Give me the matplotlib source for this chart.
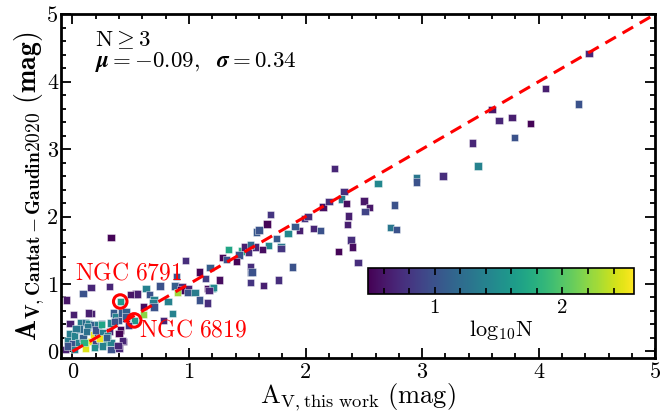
import numpy as np
import matplotlib
matplotlib.use("Agg")
import matplotlib.pyplot as plt
from matplotlib.ticker import MultipleLocator

plt.rcParams['mathtext.fontset'] = 'cm'
plt.rcParams['font.family'] = 'serif'
plt.rcParams['font.serif'] = ['cmr10', 'DejaVu Serif']
plt.rcParams['axes.unicode_minus'] = False
plt.rcParams['axes.formatter.use_mathtext'] = True

# data: (A_V this work, A_V Cantat-Gaudin2020, log10 N)
av_this = [4.43, 4.06, 4.34, 3.60, 3.66, 3.77, 3.93, 3.79, 3.43, 3.48, 3.18, 2.95, 2.95,
           2.25, 2.62, 2.33, 2.31, 2.35, 2.50, 2.55, 2.51, 2.76, 2.73, 2.78, 2.15, 2.20, 2.37, 2.36,
           2.39, 2.40, 2.28, 2.45, 1.99, 2.02, 2.07, 2.13, 1.95, 1.91, 1.70, 1.67, 1.58, 1.60, 1.75,
           1.85, 1.68, 1.79, 1.79, 1.57, 1.89, 1.53, 1.77,
           1.34, 1.45, 1.48, 1.53, 1.43, 1.51, 1.63, 1.29, 1.41, 1.53, 1.54, 0.97, 1.09, 1.18, 1.14,
           1.26, 0.89, 0.75, 0.88, 0.94, 0.99, 1.16, 1.20, 1.53, 1.64, 1.32, 1.21,
           0.93, 0.90, 0.99, 1.05, 1.09, 1.16, 1.17, 0.82, 0.86, 0.78, 0.63, 0.54, 0.66, 0.70, 0.69,
           0.61, 0.70, 0.61, 0.53, 0.41,
           0.16, 0.32, 0.09, -0.05, 0.50, 0.56, 0.01, 0.16, -0.02, 0.07, 0.11, 0.14, 0.18, 0.22, 0.25,
           0.35, 0.37, 0.42, 0.46, 0.46, 0.39, 0.41, 0.40, 0.44, 0.40, -0.02, 0.02, -0.04, 0.00, 0.05,
           0.09, 0.18, 0.16, 0.11, 0.10, 0.20, 0.24, 0.28, 0.26, 0.32, 0.22, 0.26, 0.20, 0.33, 0.02,
           -0.06, -0.04, 0.33, 0.30, 0.33, 0.23, 0.43, 0.39, 0.46, 0.33, 0.14, 0.25, 0.06, 0.13,
           0.29, 0.36, 0.48, 0.12, 0.03, 0.19]
av_cg = [4.42, 3.90, 3.67, 3.59, 3.42, 3.47, 3.38, 3.17, 3.09, 2.75, 2.60, 2.57, 2.51,
         2.71, 2.49, 2.37, 2.26, 2.19, 2.23, 2.13, 2.07, 2.17, 1.84, 1.81, 2.14, 2.22, 2.01, 1.88,
         1.65, 1.55, 1.48, 1.32, 1.97, 2.00, 1.82, 1.79, 1.79, 1.85, 2.03, 1.89, 1.77, 1.80, 1.67,
         1.75, 1.57, 1.55, 1.53, 1.55, 1.25, 1.17, 1.06,
         1.51, 1.49, 1.55, 1.58, 1.43, 1.47, 1.51, 1.39, 1.33, 1.26, 1.18, 1.35, 1.18, 1.24, 1.08,
         1.06, 1.11, 0.97, 0.97, 0.96, 0.93, 0.93, 0.94, 1.02, 0.98, 1.36, 0.95,
         0.91, 0.87, 0.87, 0.87, 0.76, 0.72, 0.90, 0.74, 0.56, 0.46, 0.93, 0.85, 0.84, 0.77, 0.73,
         0.67, 0.66, 0.55, 0.46, 0.74,
         0.95, 0.96, 0.86, 0.76, 0.84, 0.85, 0.55, 0.56, 0.41, 0.43, 0.43, 0.41, 0.40, 0.39, 0.41,
         0.57, 0.52, 0.57, 0.59, 0.49, 0.46, 0.32, 0.27, 0.15, 0.05, 0.26, 0.23, 0.16, 0.11, 0.13,
         0.20, 0.25, 0.15, 0.05, 0.13, 0.11, 0.18, 0.13, 0.08, 0.30, 0.28, 0.28, 0.32, 0.03, 0.03,
         0.03, 0.08, 1.69, 0.24, 0.13, 0.19, 0.16, 0.09, 0.52, 0.42, 0.57, 0.40, 0.33, 0.36,
         0.21, 0.44, 0.38, 0.30, 0.34, 0.06]
log_n = [0.70, 0.65, 1.00, 0.60, 0.70, 0.65, 0.50, 1.00, 0.70, 1.40, 0.75, 1.30, 1.00,
         0.70, 1.45, 0.75, 1.35, 0.55, 0.60, 0.60, 0.90, 1.00, 1.30, 1.00, 0.55, 0.75, 0.65, 0.65,
         0.75, 0.55, 0.50, 0.75, 0.80, 0.75, 0.70, 1.00, 0.65, 1.05, 0.80, 0.50, 1.05, 1.00, 1.05,
         1.45, 1.45, 1.30, 0.80, 0.70, 1.00, 1.00, 0.75,
         1.70, 1.75, 0.65, 1.20, 1.00, 0.75, 0.55, 0.50, 0.50, 0.75, 1.00, 0.75, 0.50, 1.10, 0.85,
         0.55, 1.00, 1.00, 1.10, 0.75, 0.70, 0.55, 1.50, 0.80, 0.65, 1.00, 1.45,
         0.50, 2.25, 1.00, 1.35, 1.00, 0.75, 0.70, 1.40, 1.40, 0.70, 1.40, 0.65, 1.00, 1.40, 1.35,
         0.55, 1.00, 2.20, 1.60, 1.60,
         0.70, 0.70, 1.00, 0.60, 0.60, 0.65, 0.65, 0.65, 0.65, 1.35, 1.20, 1.40, 1.10, 1.35, 1.10,
         1.05, 1.40, 1.05, 1.10, 0.75, 1.00, 0.50, 0.50, 0.70, 0.70, 1.35, 1.40, 1.35, 1.00, 1.40,
         1.10, 2.50, 2.50, 2.45, 1.80, 0.90, 1.40, 1.60, 1.40, 0.70, 1.05, 1.35, 1.00, 1.00, 1.40,
         0.65, 1.00, 0.50, 1.40, 1.40, 2.50, 0.70, 0.70, 1.05, 1.40, 0.65, 1.70, 1.20, 1.30,
         1.10, 1.00, 0.80, 1.25, 1.30, 1.50]

ngc_names = ['NGC 6791', 'NGC 6819']
ngc_x = [0.41, 0.53]
ngc_y = [0.74, 0.46]

fig = plt.figure(figsize=(6.68, 4.16), dpi=100)
ax = fig.add_axes([0.091, 0.139, 0.890, 0.827])

sc = ax.scatter(av_this, av_cg, c=log_n, cmap='viridis', vmin=np.log10(3), vmax=2.56,
                marker='s', s=28, edgecolors=(1, 1, 1, 0.5), linewidths=0.6, zorder=2)
ax.plot([0, 5], [0, 5], color='red', ls=(0, (4, 2.5)), lw=2.2, zorder=3)
ax.scatter(ngc_x, ngc_y, s=95, facecolors='none', edgecolors='red', linewidths=2.2, zorder=4)

ax.text(0.02, 1.15, r'$\mathrm{NGC\ 6791}$', color='red', fontsize=17,
        va='center', ha='left', zorder=5)
ax.text(0.57, 0.31, r'$\mathrm{NGC\ 6819}$', color='red', fontsize=17,
        va='center', ha='left', zorder=5)

stats_text = (r'$\mathrm{N} \geq 3$' + '\n' +
              r'$\boldsymbol{\mu} = {\boldsymbol{-0.09}},\ \ \boldsymbol{\sigma} = \boldsymbol{0.34}$')
ax.text(0.057, 0.892, stats_text, transform=ax.transAxes, fontsize=16.5,
        va='center', ha='left', linespacing=0.95)

ax.set_xlim(-0.1, 5.0)
ax.set_ylim(-0.1, 5.0)
ax.xaxis.set_minor_locator(MultipleLocator(0.2))
ax.yaxis.set_minor_locator(MultipleLocator(0.2))
ax.tick_params(which='both', direction='in', top=True, right=True, width=1.3)
ax.tick_params(which='major', length=7, labelsize=16)
ax.tick_params(which='minor', length=3.5)
for sp in ax.spines.values():
    sp.set_linewidth(2)
ax.set_xticks([0, 1, 2, 3, 4, 5])
ax.set_xticklabels(['0', '1', '2', '3', '4', '5'])
ax.set_yticks([0, 1, 2, 3, 4, 5])
ax.set_yticklabels(['0', '1', '2', '3', '4', '5'])
ax.tick_params(axis='x', pad=3)
ax.tick_params(axis='y', pad=2)

ax.set_xlabel(r'$\mathrm{A_{V,this\ work}\ (mag)}$', fontsize=19, labelpad=0)
ax.set_ylabel(r'$\mathbf{A_{V,Cantat-Gaudin2020}\ (mag)}$', fontsize=20, labelpad=0)

cax = fig.add_axes([0.551, 0.293, 0.398, 0.0625])
cb = fig.colorbar(sc, cax=cax, orientation='horizontal')
cb.set_ticks([1, 2])
cb.set_ticklabels(['1', '2'])
cax.xaxis.set_minor_locator(MultipleLocator(0.2))
cax.tick_params(which='both', direction='in', top=True, bottom=True, width=1.2, labelsize=15)
cax.tick_params(which='major', length=5)
cax.tick_params(which='minor', length=4)
cb.outline.set_linewidth(1.2)
cb.set_label(r'$\mathrm{log_{10}N}$', fontsize=16, labelpad=1)

fig.savefig('out.png', dpi=100)
